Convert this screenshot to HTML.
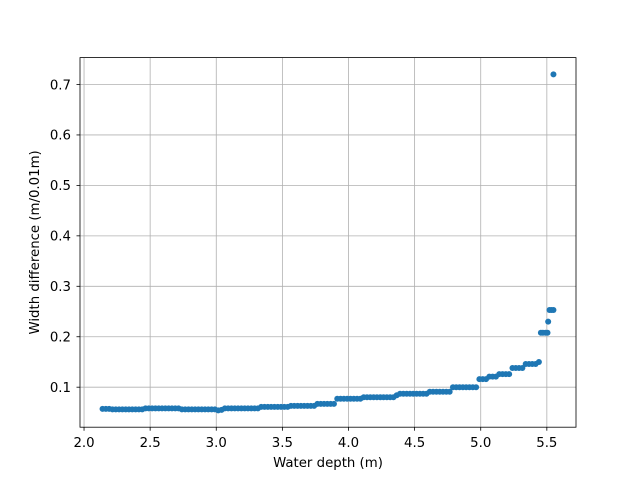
<!DOCTYPE html>
<html><head><meta charset="utf-8">
<style>
body{margin:0;background:#fff;}
svg{display:block;font-family:"DejaVu Sans","Liberation Sans",sans-serif;}
</style></head>
<body>
<svg id="chart" width="640" height="480" viewBox="0 0 640 480" xmlns="http://www.w3.org/2000/svg">
<rect x="0" y="0" width="640" height="480" fill="#fff"/>
<g id="grid"></g>
<g id="points"></g>
<rect x="80" y="57.6" width="496" height="369.6" fill="none" stroke="#000" stroke-width="0.8"/>
<g id="ticks"></g>
<text x="328" y="467" font-size="13.3" text-anchor="middle">Water depth (m)</text>
<text transform="translate(39,242.4) rotate(-90)" font-size="13.3" text-anchor="middle">Width difference (m/0.01m)</text>
</svg>
<script>
const depth = [2.140,2.165,2.190,2.215,2.240,2.265,2.290,2.315,2.340,2.365,2.390,2.415,2.440,2.465,2.490,2.515,2.540,2.565,2.590,2.615,2.640,2.665,2.690,2.715,2.740,2.765,2.790,2.815,2.840,2.865,2.890,2.915,2.940,2.965,2.990,3.015,3.040,3.065,3.090,3.115,3.140,3.165,3.190,3.215,3.240,3.265,3.290,3.315,3.340,3.365,3.390,3.415,3.440,3.465,3.490,3.515,3.540,3.565,3.590,3.615,3.640,3.665,3.690,3.715,3.740,3.765,3.790,3.815,3.840,3.865,3.890,3.915,3.940,3.965,3.990,4.015,4.040,4.065,4.090,4.115,4.140,4.165,4.190,4.215,4.240,4.265,4.290,4.315,4.340,4.365,4.390,4.415,4.440,4.465,4.490,4.515,4.540,4.565,4.590,4.615,4.640,4.665,4.690,4.715,4.740,4.765,4.790,4.815,4.840,4.865,4.890,4.915,4.940,4.965,4.990,5.015,5.040,5.065,5.090,5.115,5.140,5.165,5.190,5.215,5.240,5.265,5.290,5.315,5.340,5.365,5.390,5.415,5.440,5.455,5.470,5.490,5.505,5.510,5.520,5.535,5.550,5.550];
const widthDiff = [0.057,0.057,0.057,
0.056,0.056,0.056,0.056,0.056,0.056,0.056,0.056,0.056,0.056,
0.058,0.058,0.058,0.058,0.058,0.058,0.058,0.058,0.058,0.058,0.058,
0.056,0.056,0.056,0.056,0.056,0.056,0.056,0.056,0.056,0.056,0.056,
0.054,0.055,
0.058,0.058,0.058,0.058,0.058,0.058,0.058,0.058,0.058,0.058,0.058,
0.061,0.061,0.061,0.061,0.061,0.061,0.061,0.061,0.061,
0.063,0.063,0.063,0.063,0.063,0.063,0.063,0.063,
0.067,0.067,0.067,0.067,0.067,0.067,
0.077,0.077,0.077,0.077,0.077,0.077,0.077,0.077,
0.080,0.080,0.080,0.080,0.080,0.080,0.080,0.080,0.080,0.080,
0.084,
0.087,0.087,0.087,0.087,0.087,0.087,0.087,0.087,0.087,
0.091,0.091,0.091,0.091,0.091,0.091,0.091,
0.100,0.100,0.100,0.100,0.100,0.100,0.100,0.100,
0.116,0.116,0.116,
0.121,0.121,0.121,
0.126,0.126,0.126,0.126,
0.138,0.138,0.138,0.138,
0.146,0.146,0.146,0.146,
0.150,
0.208,0.208,0.208,0.208,0.230,0.253,0.253,0.253,0.720];
const xTicks = [2.0,2.5,3.0,3.5,4.0,4.5,5.0,5.5];
const xTickLabels = ["2.0","2.5","3.0","3.5","4.0","4.5","5.0","5.5"];
const yTicks = [0.1,0.2,0.3,0.4,0.5,0.6,0.7];
const yTickLabels = ["0.1","0.2","0.3","0.4","0.5","0.6","0.7"];

const L=80,R=576,T=57.6,B=427.2;
const xmin0=Math.min(...depth),xmax0=Math.max(...depth);
const ymin0=Math.min(...widthDiff),ymax0=Math.max(...widthDiff);
const xm=(xmax0-xmin0)*0.05, ym=(ymax0-ymin0)*0.05;
const xmin=xmin0-xm,xmax=xmax0+xm,ymin=ymin0-ym,ymax=ymax0+ym;
function sx(v){return L+(v-xmin)/(xmax-xmin)*(R-L);}
function sy(v){return B-(v-ymin)/(ymax-ymin)*(B-T);}
const NS="http://www.w3.org/2000/svg";
function mk(tag,attrs,parent){const e=document.createElementNS(NS,tag);for(const k in attrs)e.setAttribute(k,attrs[k]);parent.appendChild(e);return e;}
const grid=document.getElementById('grid'),ticks=document.getElementById('ticks'),pts=document.getElementById('points');
xTicks.forEach((v,i)=>{const x=sx(v);
 const g=mk('line',{x1:x,x2:x,y1:T,y2:B,stroke:'#b0b0b0','stroke-width':0.8},grid);
 
 
 const t=mk('line',{x1:x,x2:x,y1:B,y2:B+3.5,stroke:'#000','stroke-width':0.8},ticks);
 
 
 const l=mk('text',{x:x,y:B+20,'font-size':13.3,'text-anchor':'middle'},ticks);l.textContent=xTickLabels[i];
 
 
});
yTicks.forEach((v,i)=>{const y=sy(v);
 const g=mk('line',{x1:L,x2:R,y1:y,y2:y,stroke:'#b0b0b0','stroke-width':0.8},grid);
 
 
 const t=mk('line',{x1:L-3.5,x2:L,y1:y,y2:y,stroke:'#000','stroke-width':0.8},ticks);
 
 
 const l=mk('text',{x:L-9,y:y+4.8,'font-size':13.3,'text-anchor':'end'},ticks);l.textContent=yTickLabels[i];
 
 
});
depth.forEach((d,i)=>{
 const c=mk('circle',{cx:sx(d),cy:sy(widthDiff[i]),r:3,fill:'#1f77b4'},pts);
 
 
});
</script>
</body></html>
